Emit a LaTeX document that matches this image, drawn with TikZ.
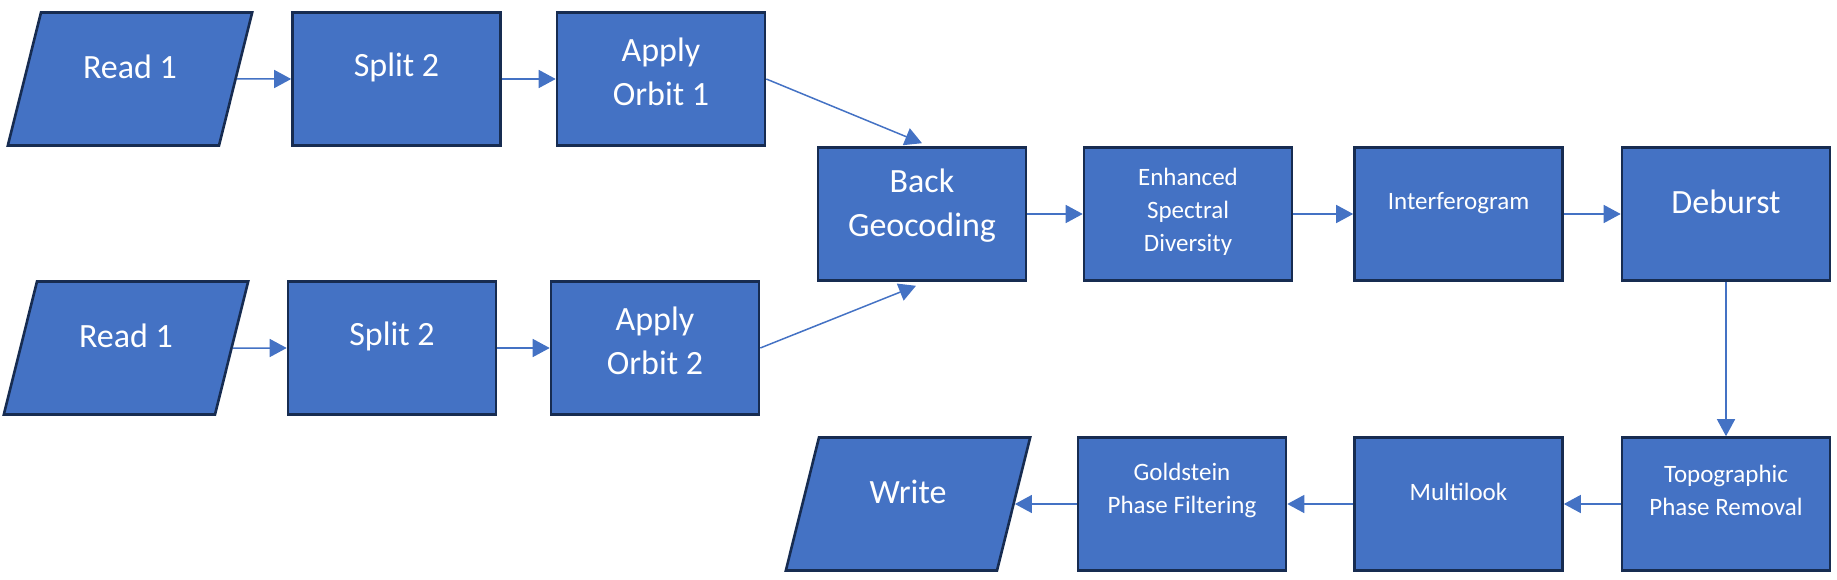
\documentclass[tikz,border=0pt]{standalone}
\usepackage{fontspec}
\setmainfont{Carlito}
\usetikzlibrary{shapes.geometric,arrows.meta}
\definecolor{fillblue}{HTML}{4472C4}
\definecolor{edgenavy}{HTML}{172C51}
\definecolor{arrowblue}{HTML}{4472C4}
\begin{document}
\begin{tikzpicture}[x=1pt,y=-1pt,
  box/.style={draw=edgenavy, line width=2.6pt, fill=fillblue, minimum width=208pt, minimum height=133pt, inner sep=0pt},
  para/.style={draw=edgenavy, line width=2.6pt, fill=fillblue, shape=trapezium, trapezium left angle=76, trapezium right angle=104, text width=178pt, text height=133pt, text depth=0pt, inner sep=0pt},
  big/.style={text=white, font=\fontsize{34}{44}\selectfont, align=center},
  small/.style={text=white, font=\fontsize{25}{33}\selectfont, align=center},
  link/.style={draw=arrowblue, line width=1.5pt, -{Triangle[length=17pt,width=18pt]}}
]
\useasboundingbox (0,0) rectangle (1837,580);
% row 1
\node[para, label={[big,yshift=12pt]center:Read 1}] (ra) at (130,79) {};
\node[box, label={[big,yshift=12pt]center:Split 2}] (sa) at (396.5,79) {};
\node[box, label={[big,yshift=7pt]center:Apply\\Orbit 1}] (oa) at (661,79) {};
% middle row
\node[box, label={[big,yshift=8pt]center:Back\\Geocoding}] (bg) at (922,214) {};
\node[box, label={[small,yshift=2pt]center:Enhanced\\Spectral\\Diversity}] (es) at (1188,214) {};
\node[box, label={[small,yshift=11pt]center:Interferogram}] (ifg) at (1458.5,214) {};
\node[box, label={[big,yshift=12pt]center:Deburst}] (db) at (1726,214) {};
% row 2
\node[para, label={[big,yshift=12pt]center:Read 1}] (rb) at (126,348) {};
\node[box, label={[big,yshift=12pt]center:Split 2}] (sb) at (392,348) {};
\node[box, label={[big,yshift=7pt]center:Apply\\Orbit 2}] (ob) at (655,348) {};
% row 3
\node[para, label={[big,yshift=12pt]center:Write}] (wr) at (908,504) {};
\node[box, label={[small,yshift=14pt]center:Goldstein\\Phase Filtering}] (gp) at (1182,504) {};
\node[box, label={[small,yshift=12pt]center:Multilook}] (ml) at (1458.5,504) {};
\node[box, label={[small,yshift=14pt]center:Topographic\\Phase Removal}] (tp) at (1726,504) {};
% connectors
\draw[link] (ra) -- (sa);
\draw[link] (sa) -- (oa);
\draw[link] (rb) -- (sb);
\draw[link] (sb) -- (ob);
\draw[link] (oa.east) -- ([yshift=3pt]bg.north);
\draw[link] (ob.east) -- ([xshift=-6pt,yshift=-4pt]bg.south);
\draw[link] (bg) -- (es);
\draw[link] (es) -- (ifg);
\draw[link] (ifg) -- (db);
\draw[link] (db) -- (tp);
\draw[link] (tp) -- (ml);
\draw[link] (ml) -- (gp);
\draw[link] (gp) -- (wr);
\end{tikzpicture}
\end{document}
